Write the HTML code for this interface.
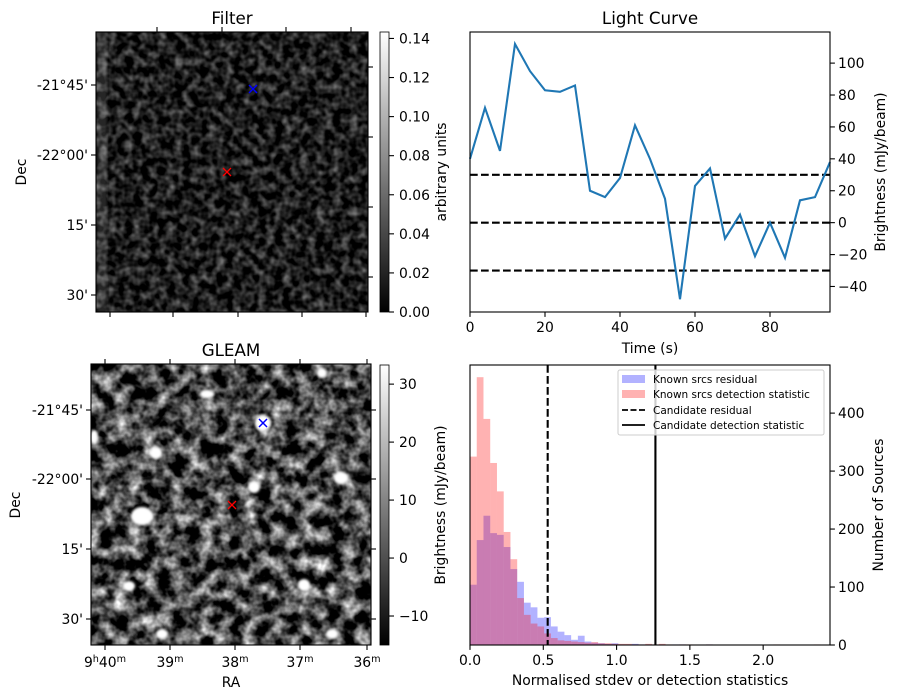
<!DOCTYPE html>
<html><head><meta charset="utf-8"><style>
html,body{margin:0;padding:0;background:#fff;}
svg{display:block;font-family:"DejaVu Sans","Liberation Sans",sans-serif;}
</style></head><body>
<svg id="fig" width="898" height="699" viewBox="0 0 898 699" xmlns="http://www.w3.org/2000/svg">
<defs>
<filter id="fnoise" x="0" y="0" width="100%" height="100%" color-interpolation-filters="sRGB">
<feTurbulence type="fractalNoise" baseFrequency="0.12" numOctaves="2" seed="3"/>
<feColorMatrix type="matrix" values="0.85 0 0 0 -0.31  0.85 0 0 0 -0.31  0.85 0 0 0 -0.31  0 0 0 0 1"/>
</filter>
<filter id="gnoise" x="0" y="0" width="100%" height="100%" color-interpolation-filters="sRGB">
<feTurbulence type="fractalNoise" baseFrequency="0.07" numOctaves="3" seed="7"/>
<feColorMatrix type="matrix" values="1.9 0 0 0 -0.66  1.9 0 0 0 -0.66  1.9 0 0 0 -0.66  0 0 0 0 1"/>
</filter>
<filter id="blur2"><feGaussianBlur stdDeviation="1.3"/></filter>
<linearGradient id="cbg" x1="0" y1="1" x2="0" y2="0"><stop offset="0" stop-color="#000"/><stop offset="1" stop-color="#fff"/></linearGradient>
</defs>

<!-- FILTER PANEL -->
<g>
<text x="232" y="24" font-size="16.7" text-anchor="middle">Filter</text>
<rect x="96" y="32" width="272" height="280" fill="#000" filter="url(#fnoise)"/>
<rect x="97" y="32" width="10" height="280" fill="#fff" opacity="0.15" filter="url(#blur2)"/>
<rect x="96" y="32" width="272" height="280" fill="none" stroke="#000" stroke-width="1.1"/>
<g stroke="#00f" stroke-width="1.5"><line x1="249" y1="85" x2="257" y2="93"/><line x1="257" y1="85" x2="249" y2="93"/></g>
<g stroke="#f00" stroke-width="1.3"><line x1="223" y1="168" x2="231" y2="176"/><line x1="231" y1="168" x2="223" y2="176"/></g>
<g id="filterTicks"></g>
<text transform="translate(26,172) rotate(-90)" font-size="13.9" text-anchor="middle">Dec</text>
<rect x="380" y="32" width="9" height="280" fill="url(#cbg)" stroke="#000" stroke-width="0.8"/>
<text transform="translate(446,172) rotate(-90)" font-size="13.9" text-anchor="middle">arbitrary units</text>
</g>

<!-- GLEAM PANEL -->
<g>
<text x="231" y="356" font-size="16.7" text-anchor="middle">GLEAM</text>
<rect x="91" y="364" width="280" height="281" fill="#000" filter="url(#gnoise)"/>
<g fill="#fff" filter="url(#blur2)">
<ellipse cx="142" cy="516" rx="11" ry="9"/><ellipse cx="263" cy="423" rx="8" ry="8"/><ellipse cx="254" cy="487" rx="6" ry="6"/>
<ellipse cx="341" cy="478" rx="7" ry="6"/><ellipse cx="156" cy="453" rx="6" ry="6"/><ellipse cx="207" cy="394" rx="7" ry="4"/>
<ellipse cx="304" cy="585" rx="6" ry="6"/><ellipse cx="129" cy="586" rx="6" ry="5"/><ellipse cx="162" cy="634" rx="6" ry="5"/>
<ellipse cx="332" cy="634" rx="6" ry="5"/><ellipse cx="322" cy="373" rx="5" ry="5"/><ellipse cx="94" cy="437" rx="4" ry="7"/>
</g>
<rect x="91" y="364" width="280" height="281" fill="none" stroke="#000" stroke-width="1.1"/>
<g stroke="#00f" stroke-width="1.5"><line x1="259" y1="419" x2="267" y2="427"/><line x1="267" y1="419" x2="259" y2="427"/></g>
<g stroke="#f00" stroke-width="1.3"><line x1="228" y1="501" x2="236" y2="509"/><line x1="236" y1="501" x2="228" y2="509"/></g>
<g id="gleamTicks"></g>
<text transform="translate(20,505) rotate(-90)" font-size="13.9" text-anchor="middle">Dec</text>
<text x="231" y="687" font-size="13.9" text-anchor="middle">RA</text>
<rect x="380" y="365" width="9" height="280" fill="url(#cbg)" stroke="#000" stroke-width="0.8"/>
<text transform="translate(445,505) rotate(-90)" font-size="13.9" text-anchor="middle">Brightness (mJy/beam)</text>
</g>

<!-- LIGHT CURVE -->
<g id="lc">
<text x="650" y="24" font-size="16.7" text-anchor="middle">Light Curve</text>
<text x="650" y="353" font-size="13.9" text-anchor="middle">Time (s)</text>
<text transform="translate(885,172) rotate(-90)" font-size="13.9" text-anchor="middle">Brightness (mJy/beam)</text>
</g>

<!-- HISTOGRAM -->
<g id="hist">
<text x="650" y="685" font-size="13.9" text-anchor="middle">Normalised stdev or detection statistics</text>
<text transform="translate(883,505) rotate(-90)" font-size="13.9" text-anchor="middle">Number of Sources</text>
</g>
</svg>
<script>
const NS="http://www.w3.org/2000/svg";
// ---- Light curve data ----
const lcTimes=[0,4,8,12,16,20,24,28,32,36,40,44,48,52,56,60,64,68,72,76,80,84,88,92,96];
const lcValues=[40,72,45,112,95,83,82,86,20,16,28,61,40,15,-48,23,34,-10,5,-21,0,-22,14,16,38];
const lcThresholds=[30,0,-30];
const lcXTicks=[0,20,40,60,80];
const lcYTicks=[-40,-20,0,20,40,60,80,100];
// ---- Histogram data ----
const histBinWidth=0.046;
const histResidual=[104,181,223,193,190,169,131,109,73,65,47,48,32,23,17,9,16,6,4,3,2,3,1,1,2,1,1,0,1,0,1,1,0,0,0,1,0,0,0,0,0,0,0,0,0,0,0,0,0,0,0,0,0];
const histDetection=[325,462,390,314,265,195,148,81,52,37,32,20,12,8,7,6,5,4,5,3,3,2,2,2,1,1,2,1,2,1,0,1,1,0,0,1,0,0,0,0,0,0,0,0,0,1,0,0,0,0,0,1,0];
const candidateResidual=0.53;
const candidateDetection=1.265;
const histXTicks=[0.0,0.5,1.0,1.5,2.0];
const histYTicks=[0,100,200,300,400];
// ---- Image axes ticks ----
const decLabels=["-21°45'","-22°00'","15'","30'"];
const filterCbTicks=[0,0.02,0.04,0.06,0.08,0.1,0.12,0.14];
const gleamCbTicks=[-10,0,10,20,30];
const raLabels=["40","39","38","37","36"];

const FS=13.9;
function el(tag,attrs,parent){const e=document.createElementNS(NS,tag);for(const k in attrs)e.setAttribute(k,attrs[k]);parent.appendChild(e);return e;}
function txt(x,y,s,anchor,parent){const t=el('text',{x:x,y:y,'font-size':FS,'text-anchor':anchor},parent);t.textContent=s;return t;}

// Light curve
(function(){
const g=document.getElementById('lc');
const L=470,R=830,T=32,B=312,xmin=0,xmax=96,ymin=-56,ymax=119.5;
const X=v=>L+(v-xmin)/(xmax-xmin)*(R-L), Y=v=>B-(v-ymin)/(ymax-ymin)*(B-T);
lcThresholds.forEach(v=>{const l=el('line',{x1:L,x2:R,y1:Y(v),y2:Y(v),stroke:'#000','stroke-width':2.1,'stroke-dasharray':'7.7,3.3'},g);

});
const p=el('polyline',{points:lcTimes.map((t,i)=>X(t)+','+Y(lcValues[i])).join(' '),fill:'none',stroke:'#1f77b4','stroke-width':2.1},g);


const f=el('rect',{x:L,y:T,width:R-L,height:B-T,fill:'none',stroke:'#000','stroke-width':1.1},g);


lcXTicks.forEach(v=>{el('line',{x1:X(v),x2:X(v),y1:B,y2:B+4.9,stroke:'#000','stroke-width':1.1},g);const t=txt(X(v),B+20,String(v),'middle',g);

});
lcYTicks.forEach(v=>{el('line',{x1:R,x2:R+4.9,y1:Y(v),y2:Y(v),stroke:'#000','stroke-width':1.1},g);const t=txt(R+8,Y(v)+5,String(v).replace('-','\u2212'),'start',g);

});
})();

// Histogram
(function(){
const g=document.getElementById('hist');
const L=470,R=830,T=365,B=645,xmin=0,xmax=2.456,ymin=0,ymax=483;
const X=v=>L+(v-xmin)/(xmax-xmin)*(R-L), Y=v=>B-(v-ymin)/(ymax-ymin)*(B-T);
function bars(arr,color,name){arr.forEach((c,i)=>{if(c<=0)return;const x0=X(i*histBinWidth),x1=X((i+1)*histBinWidth);
const r=el('rect',{x:x0,y:Y(c),width:x1-x0,height:B-Y(c),fill:color,'fill-opacity':0.3},g);

});}
bars(histResidual,'#0000ff','residual-bar');
bars(histDetection,'#ff0000','detection-bar');
const d=el('line',{x1:X(candidateResidual),x2:X(candidateResidual),y1:T,y2:B,stroke:'#000','stroke-width':2.1,'stroke-dasharray':'7.7,3.3'},g);


const s=el('line',{x1:X(candidateDetection),x2:X(candidateDetection),y1:T,y2:B,stroke:'#000','stroke-width':2.1},g);


const f=el('rect',{x:L,y:T,width:R-L,height:B-T,fill:'none',stroke:'#000','stroke-width':1.1},g);


histXTicks.forEach(v=>{el('line',{x1:X(v),x2:X(v),y1:B,y2:B+4.9,stroke:'#000','stroke-width':1.1},g);const t=txt(X(v),B+20,v.toFixed(1),'middle',g);

});
histYTicks.forEach(v=>{el('line',{x1:R,x2:R+4.9,y1:Y(v),y2:Y(v),stroke:'#000','stroke-width':1.1},g);const t=txt(R+8,Y(v)+5,String(v),'start',g);

});
const lg=el('g',{},g);


el('rect',{x:618,y:370,width:206,height:65,fill:'#fff','fill-opacity':0.8,stroke:'#ccc',rx:2},lg);
el('rect',{x:622,y:375,width:23,height:8,fill:'#0000ff','fill-opacity':0.3},lg);
el('rect',{x:622,y:390,width:23,height:8,fill:'#ff0000','fill-opacity':0.3},lg);
el('line',{x1:622,x2:645,y1:410,y2:410,stroke:'#000','stroke-width':1.8,'stroke-dasharray':'6,2.5'},lg);
el('line',{x1:622,x2:645,y1:425,y2:425,stroke:'#000','stroke-width':1.8},lg);
[['Known srcs residual',383],['Known srcs detection statistic',398],['Candidate residual',414],['Candidate detection statistic',429]].forEach(a=>{
const t=el('text',{x:653,y:a[1],'font-size':10.5},lg);t.textContent=a[0];});
})();

// Image panel ticks
(function(){
const fg=document.getElementById('filterTicks');
const fDecY=[85,155,225,295];
fDecY.forEach((y,i)=>{el('line',{x1:96,x2:91,y1:y,y2:y,stroke:'#000','stroke-width':1.1},fg);const t=txt(88,y+5,decLabels[i],'end',fg);

});
[67,137,207,277].forEach(y=>el('line',{x1:368,x2:373,y1:y,y2:y,stroke:'#000','stroke-width':1.1},fg));
[110,173,238,302,366].forEach(x=>el('line',{x1:x,x2:x,y1:312,y2:317,stroke:'#000','stroke-width':1.1},fg));
[157,222,286,351].forEach(x=>el('line',{x1:x,x2:x,y1:32,y2:27,stroke:'#000','stroke-width':1.1},fg));
const fcb0=312,fcb1=32,fmax=0.1433;
filterCbTicks.forEach(v=>{const y=fcb0-v/fmax*(fcb0-fcb1);el('line',{x1:389,x2:394,y1:y,y2:y,stroke:'#000','stroke-width':1.1},fg);const t=txt(399,y+5,v.toFixed(2),'start',fg);

});

const gg=document.getElementById('gleamTicks');
const gDecY=[410,479,549,619];
gDecY.forEach((y,i)=>{el('line',{x1:91,x2:86,y1:y,y2:y,stroke:'#000','stroke-width':1.1},gg);const t=txt(83,y+5,decLabels[i],'end',gg);

});
gDecY.forEach(y=>el('line',{x1:371,x2:376,y1:y,y2:y,stroke:'#000','stroke-width':1.1},gg));
const raX=[105,170,235,300,367];
raX.forEach((x,i)=>{el('line',{x1:x,x2:x,y1:645,y2:650,stroke:'#000','stroke-width':1.1},gg);el('line',{x1:x,x2:x,y1:364,y2:359,stroke:'#000','stroke-width':1.1},gg);
const t=el('text',{x:x,y:667,'font-size':FS,'text-anchor':'middle'},gg);


t.innerHTML=(i===0?'9<tspan dy="-5" font-size="9.7">h</tspan><tspan dy="5">'+raLabels[i]+'</tspan>':raLabels[i])+'<tspan dy="-5" font-size="9.7">m</tspan>';});
const gcb0=645,gcb1=365,gmin=-15,gmax=33.3;
gleamCbTicks.forEach(v=>{const y=gcb0-(v-gmin)/(gmax-gmin)*(gcb0-gcb1);el('line',{x1:389,x2:394,y1:y,y2:y,stroke:'#000','stroke-width':1.1},gg);const t=txt(399,y+5,String(v).replace('-','\u2212'),'start',gg);

});
})();
</script>
</body></html>
